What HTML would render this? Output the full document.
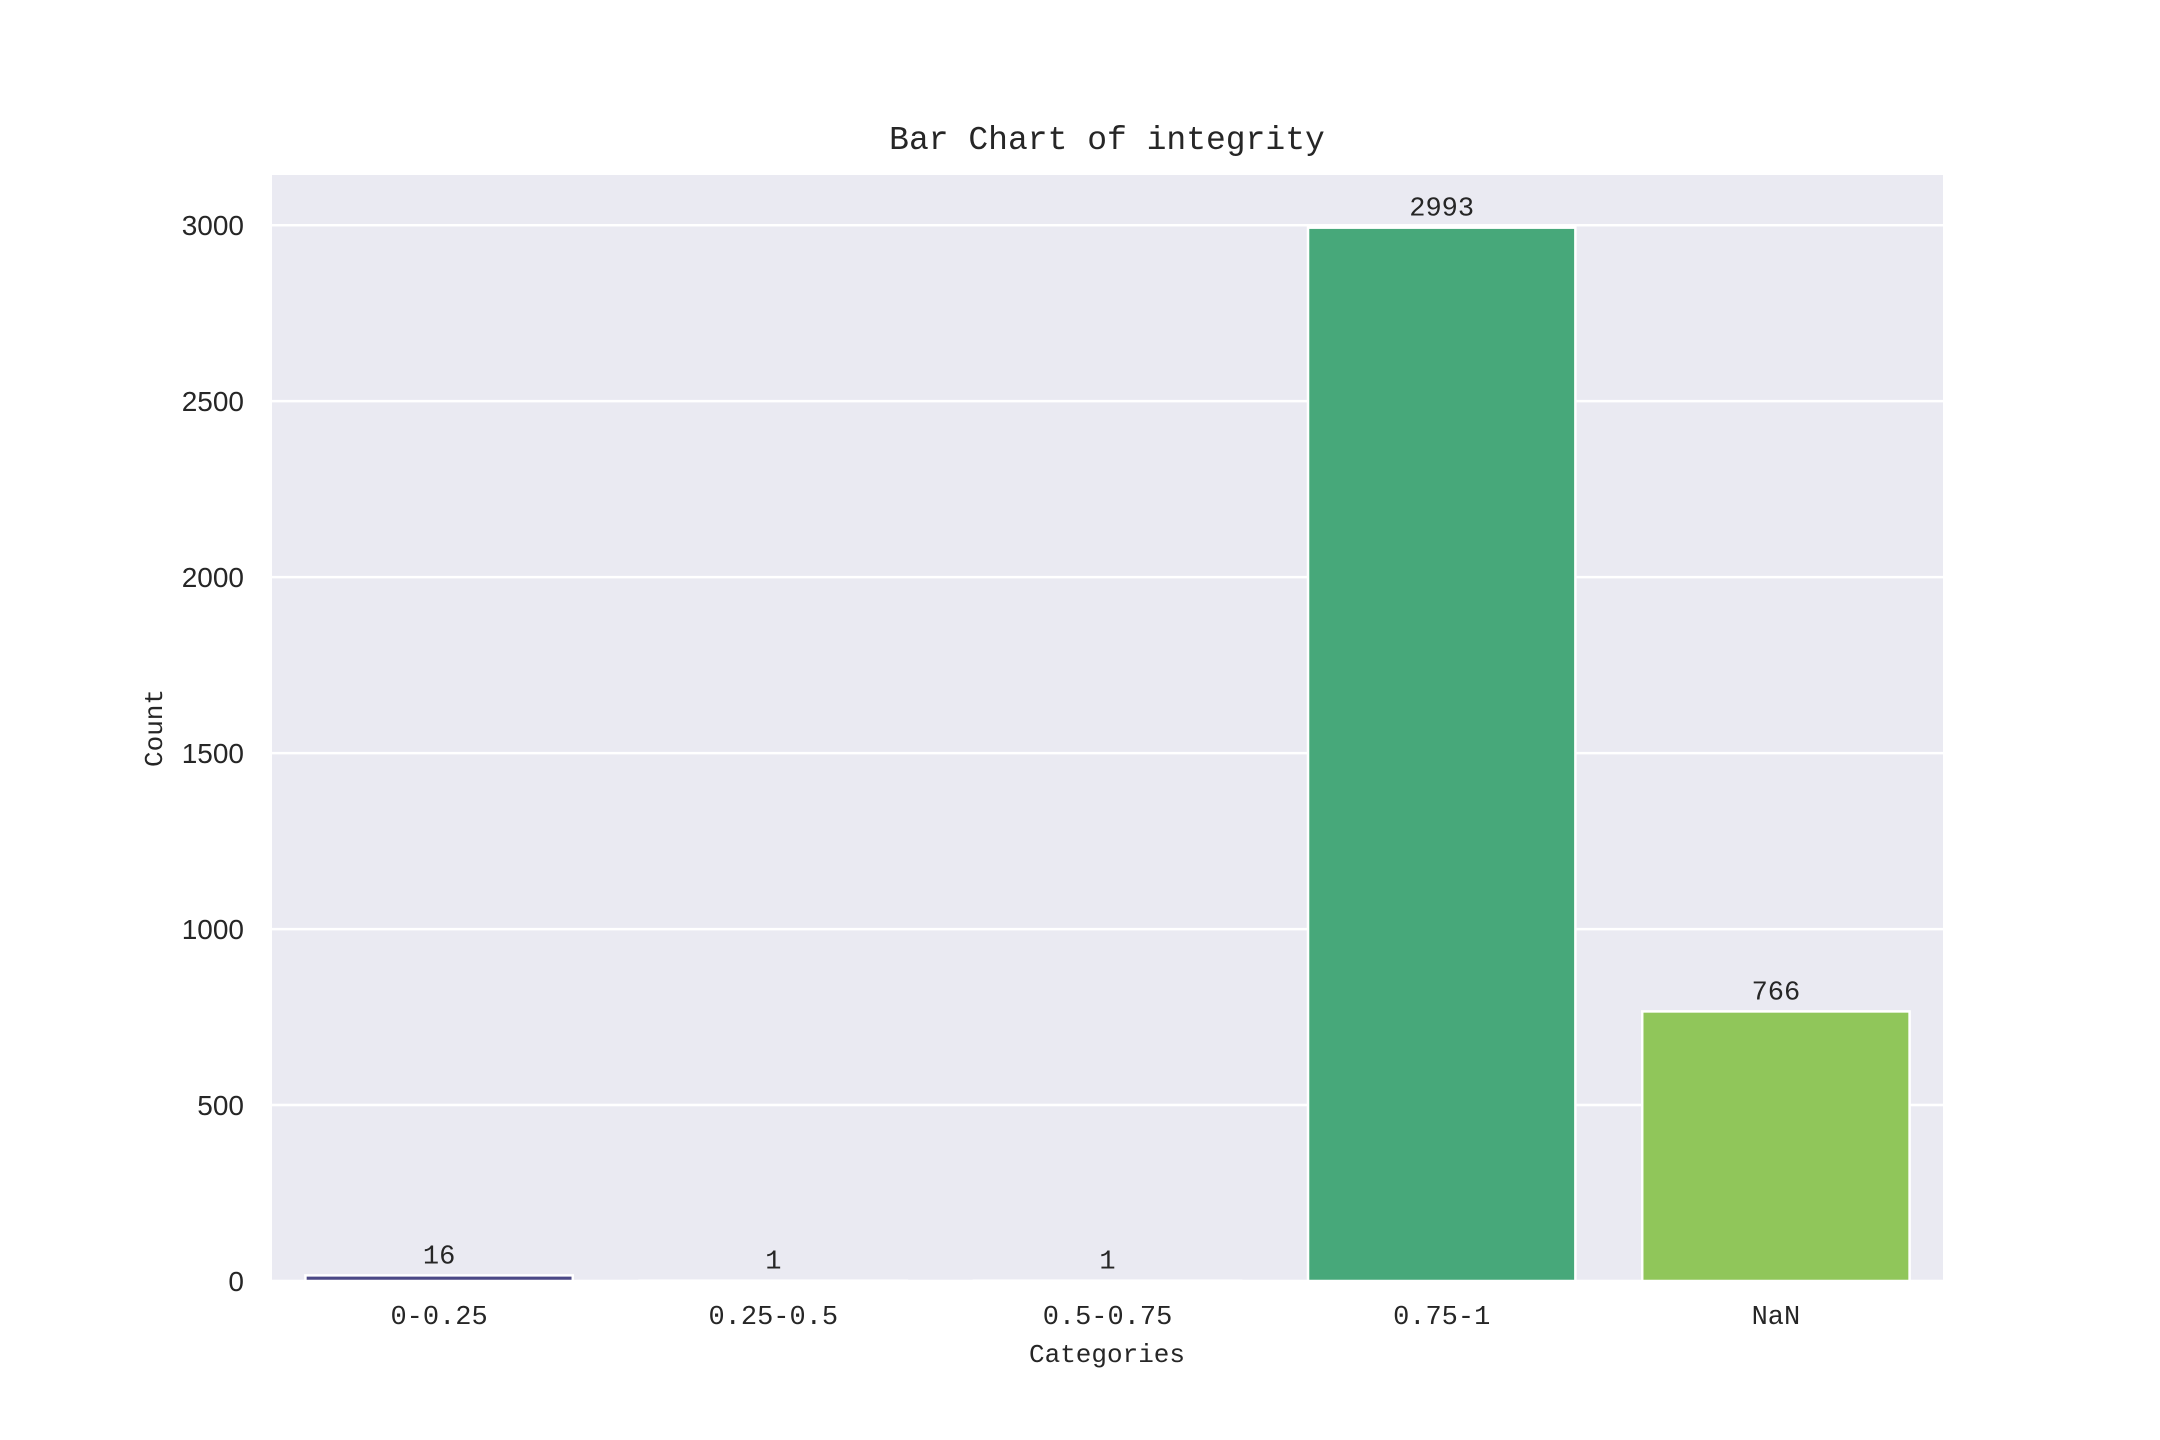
<!DOCTYPE html>
<html><head><meta charset="utf-8"><style>
html,body{margin:0;padding:0;background:#fff;}
svg{display:block;}
.mono{font-family:"Liberation Mono","Noto Sans CJK SC",monospace;fill:#262626;}
.sans{font-family:"Liberation Sans",sans-serif;fill:#262626;}
</style></head><body>
<svg id="chart" width="2160" height="1440" xmlns="http://www.w3.org/2000/svg">
<rect x="272" y="175" width="1671" height="1106" fill="#eaeaf2"/>
<g id="grid"></g>
<g id="bars"></g>
<g id="labels"></g>
<text x="1107" y="149" text-anchor="middle" class="mono" font-size="33">Bar Chart of integrity</text>
<text x="1107" y="1362" text-anchor="middle" class="mono" font-size="26">Categories</text>
<text transform="translate(162,728) rotate(-90)" text-anchor="middle" class="mono" font-size="26">Count</text>
</svg>
<script>
const categories = ["0-0.25","0.25-0.5","0.5-0.75","0.75-1","NaN"];
const values = [16,1,1,2993,766];
const yTicks = [0,500,1000,1500,2000,2500,3000];
const colors = ["#4b4886","#3e6a8a","#3a8a8c","#47a87a","#90c65a"];
const L=272,R=1943,T=175,B=1281;
const yMax = Math.max(...values)*1.05;
function y(v){return B-(v/yMax)*(B-T);}
function x(i){return L+(i+0.5)*(R-L)/categories.length;}
const bw = 0.8*(R-L)/categories.length;
const NS="http://www.w3.org/2000/svg";
const grid=document.getElementById('grid'), bars=document.getElementById('bars'), labels=document.getElementById('labels');
function mk(tag,attrs,parent){const e=document.createElementNS(NS,tag);for(const k in attrs)e.setAttribute(k,attrs[k]);parent.appendChild(e);return e;}
yTicks.forEach(t=>{
  const g=mk('line',{x1:L,x2:R,y1:y(t),y2:y(t),stroke:'#fff','stroke-width':2.5},grid);
  
  
  const tx=mk('text',{x:244,y:y(t)+10,'text-anchor':'end','class':'sans','font-size':28},labels);
  tx.textContent=t;
  
  
});
categories.forEach((c,i)=>{
  const r=mk('rect',{x:x(i)-bw/2,y:y(values[i]),width:bw,height:B-y(values[i]),fill:colors[i],stroke:'#fff','stroke-width':2.5},bars);
  
  
  const v=mk('text',{x:x(i),y:y(values[i])-12,'text-anchor':'middle','class':'mono','font-size':27},labels);
  v.textContent=values[i];
  
  
  const tl=mk('text',{x:x(i),y:1324,'text-anchor':'middle','class':'mono','font-size':27},labels);
  tl.textContent=c;
  
  
});
</script>
</body></html>
